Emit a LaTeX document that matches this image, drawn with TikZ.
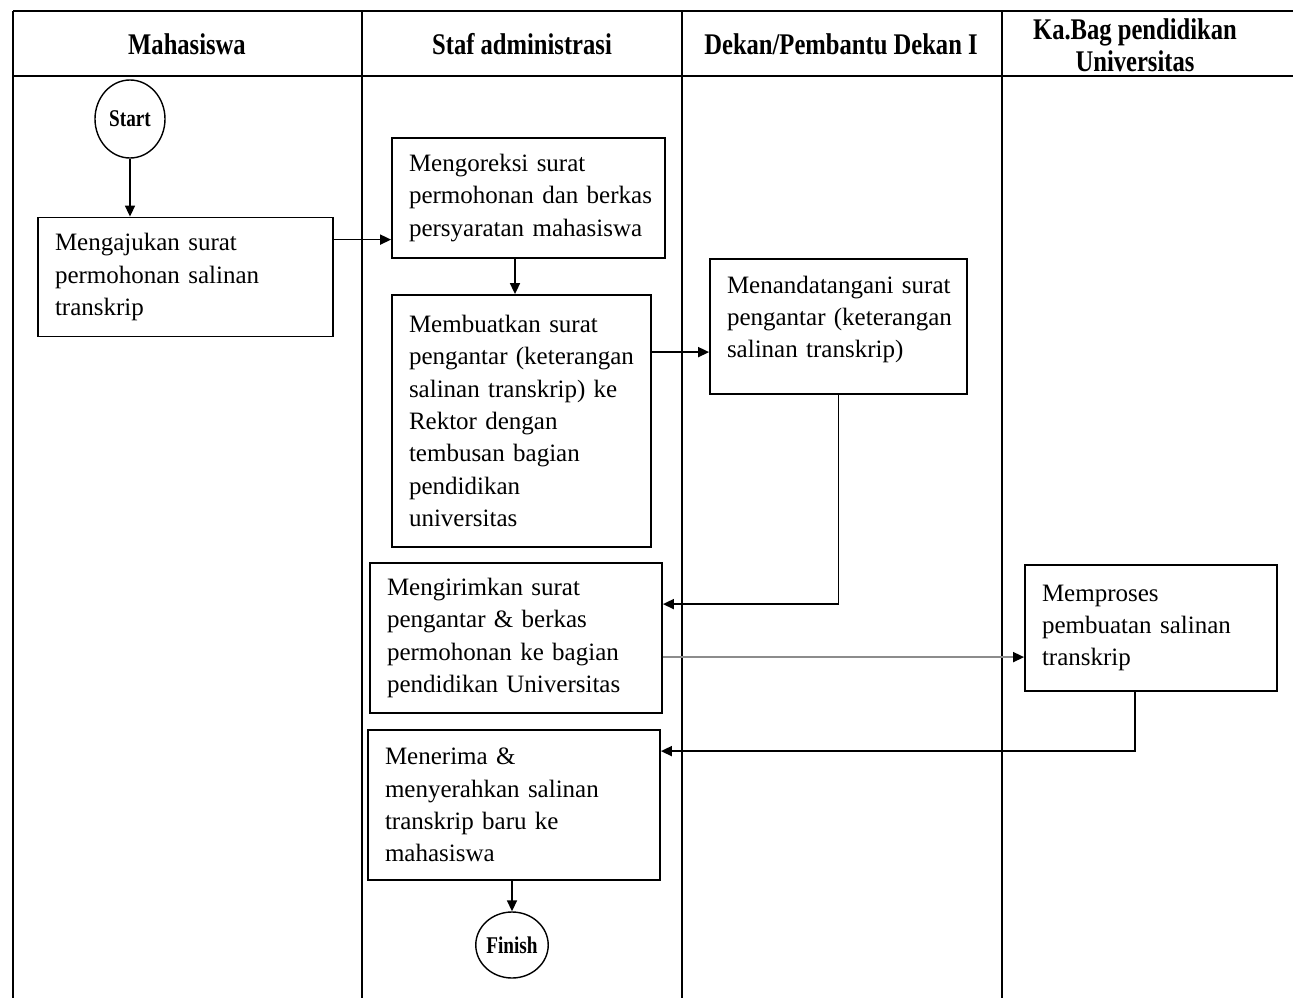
\documentclass[tikz,border=0pt]{standalone}
\usepackage{fontspec}
\setmainfont{Liberation Serif}
\usetikzlibrary{arrows.meta,shapes.geometric,calc}

% narrow bold lettering used in the lane headers and terminators
\newcommand{\narrowtxt}[1]{\scalebox{0.82}[1]{#1}}

\begin{document}
\begin{tikzpicture}[x=1pt,y=-1pt,
  laneline/.style={line width=1.9pt},
  hdr/.style={font=\fontsize{30}{32}\selectfont\bfseries, align=center, inner sep=0pt},
  procbox/.style={draw, line width=1.8pt, rectangle, align=left, inner xsep=17pt,
    inner ysep=0pt, font=\fontsize{25}{32.3}\selectfont,
    execute at begin node={\hyphenpenalty=10000\exhyphenpenalty=10000\relax}},
  term/.style={draw, line width=1.4pt, ellipse, inner sep=0pt,
    font=\fontsize{24}{24}\selectfont\bfseries},
  flow/.style={line width=1.7pt, -{Triangle[length=11pt,width=10pt]}},
  thinflow/.style={line width=1.6pt, draw=black!45, -{Triangle[length=11pt,width=10pt,color=black]}}
]
\useasboundingbox (0,0) rectangle (1293,998);

% swimlane frame
\draw[laneline] (13,11) -- (1293,11);
\draw[laneline] (13,76) -- (1293,76);
\foreach \lx in {13,362,682,1002}
  \draw[laneline] (\lx,11) -- (\lx,998);

% lane headers
\node[hdr] (hMhs) at (187,44) {\narrowtxt{Mahasiswa}};
\node[hdr] (hStaf) at (522,44) {\narrowtxt{Staf administrasi}};
\node[hdr] (hDekan) at (841,44) {\narrowtxt{Dekan/Pembantu Dekan I}};
\node[hdr] (hKabag) at (1135,45) {\narrowtxt{Ka.Bag pendidikan}\\\narrowtxt{Universitas}};

% terminators
\node[term, minimum width=70pt, minimum height=78pt] (start) at (130,119) {\scalebox{0.8}[1]{Start}};
\node[term, minimum width=66pt, minimum height=66pt] (finish) at (512,945) {\scalebox{0.8}[1]{Finish}};

% process steps (spaces tied so every printed line stays whole)
\node[procbox, text width=261pt, minimum width=295pt, minimum height=119pt] (b1) at (185.5,277)
  {Mengajukan~surat\\permohonan~salinan\\transkrip};
\node[procbox, text width=239pt, minimum width=273pt, minimum height=120pt] (b2) at (528.5,198)
  {Mengoreksi~surat\\permohonan~dan~berkas\\persyaratan~mahasiswa};
\node[procbox, text width=225pt, minimum width=259pt, minimum height=252pt] (b3) at (521.5,421)
  {Membuatkan~surat\\pengantar~(keterangan\\salinan~transkrip)~ke\\Rektor~dengan\\tembusan~bagian\\pendidikan\\universitas};
\node[procbox, text width=223pt, minimum width=257pt, minimum height=135pt, text depth=84pt] (b4) at (838.5,326.5)
  {Menandatangani~surat\\pengantar~(keterangan\\salinan~transkrip)};
\node[procbox, text width=258pt, minimum width=292pt, minimum height=150pt] (b5) at (516,638)
  {Mengirimkan~surat\\pengantar~\&~berkas\\permohonan~ke~bagian\\pendidikan~Universitas};
\node[procbox, text width=218pt, minimum width=252pt, minimum height=126pt] (b6) at (1151,628)
  {Memproses\\pembuatan~salinan\\transkrip};
\node[procbox, text width=258pt, minimum width=292pt, minimum height=150pt] (b7) at (514,805)
  {Menerima~\&\\menyerahkan~salinan\\transkrip~baru~ke\\mahasiswa};

% connectors
\draw[flow] (start.south) -- (start.south |- b1.north);
\draw[flow] ([yshift=-23pt]b1.north east) -- ([yshift=-23pt]b1.north east -| b2.west);
\draw[flow] ([xshift=-13.5pt]b2.south) -- ([xshift=-13.5pt]b2.south |- b3.north);
\draw[flow] ([yshift=-58pt]b3.north east) -- ([yshift=-58pt]b3.north east -| b4.west);
\draw[flow] (b4.south) |- ([yshift=-42pt]b5.north east);
\draw[thinflow] ([yshift=-95pt]b5.north east) -- ([yshift=-95pt]b5.north east -| b6.west);
\draw[flow] ([xshift=-16pt]b6.south) |- ([yshift=-22pt]b7.north east);
\draw[flow] (b7.south -| finish.north) -- (finish.north);
\end{tikzpicture}
\end{document}
